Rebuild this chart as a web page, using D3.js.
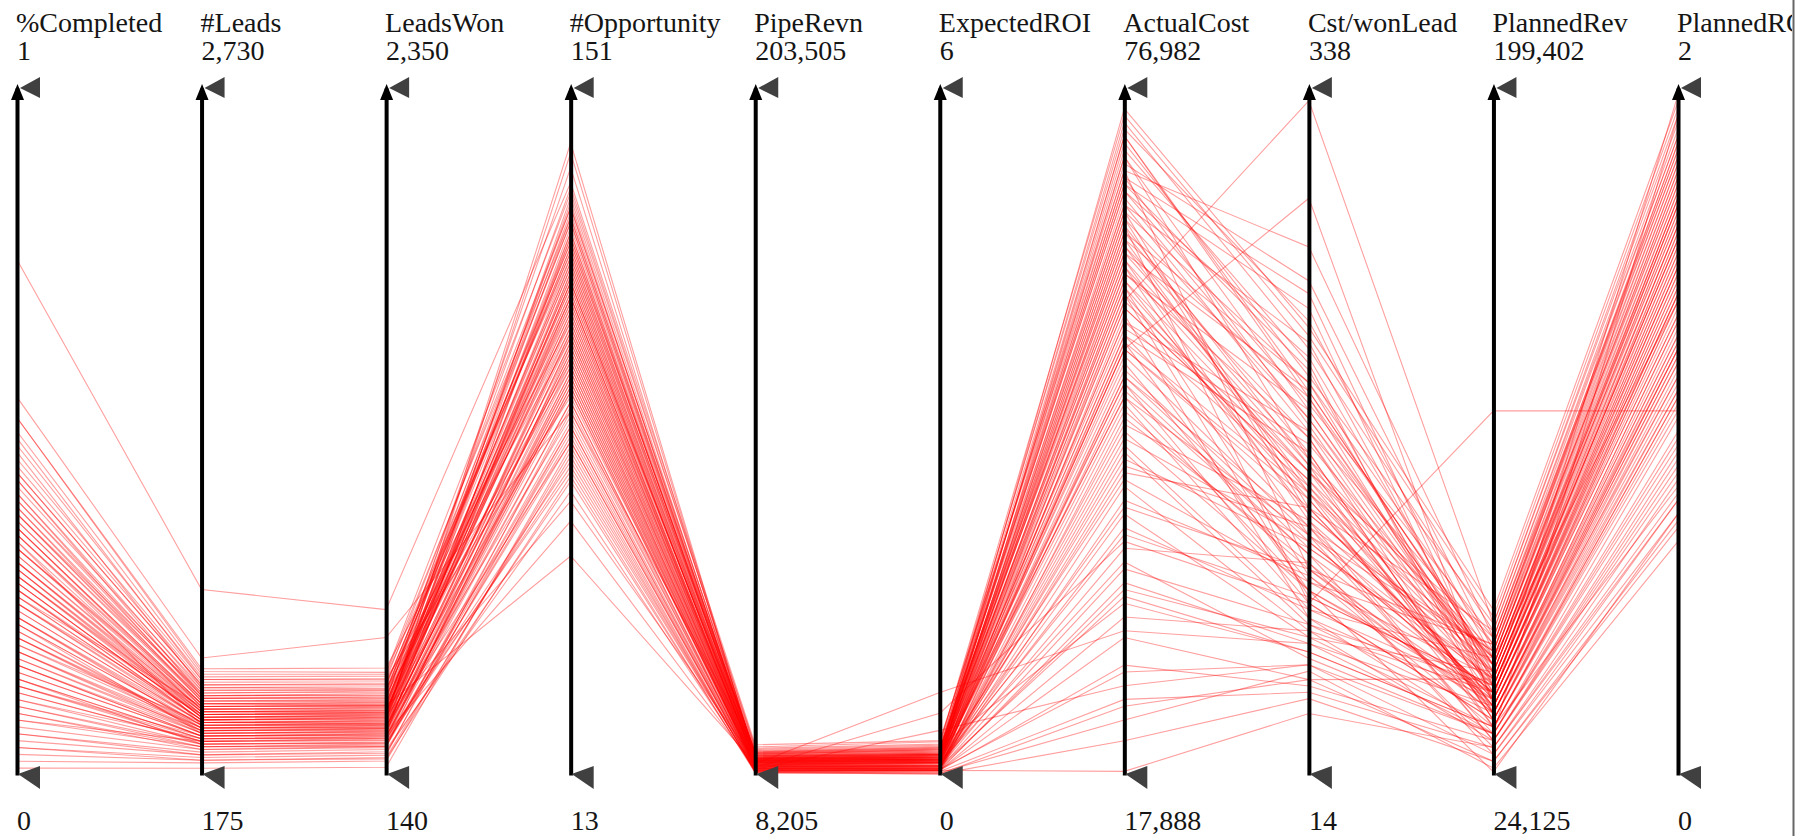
<!DOCTYPE html>
<html>
<head>
<meta charset="utf-8">
<script src="https://cdnjs.cloudflare.com/ajax/libs/d3/7.8.5/d3.min.js"></script>
<style>
  body { margin: 0; background: #fff; }
  svg { display: block; }
  .label { font-family: "Liberation Serif", "Times New Roman", serif; font-size: 28px; fill: #151515; text-anchor: start; }
  .line { fill: none; stroke: #ff0000; stroke-opacity: 0.38; stroke-width: 1.1; }
</style>
</head>
<body>
<div class="flex-container"></div>
<script>
var width = 1805;
var height = 836;

var margin = { "top": 88,
               "bottom": 61,
               "left": 17,
               "right": 127 };

// axes, left to right, with the range printed at the top and bottom
var dimensions = ["%Completed", "#Leads", "LeadsWon", "#Opportunity", "PipeRevn",
                  "ExpectedROI", "ActualCost", "Cst/wonLead", "PlannedRev", "PlannedROI"];
var domainMin = [0, 175, 140, 13, 8205, 0, 17888, 14, 24125, 0];
var domainMax = [1, 2730, 2350, 151, 203505, 6, 76982, 338, 199402, 2];

// one array per axis, same record order in each
var completed = [.32,.18,.41,.08,.27,.75,.22,.36,.14,.29,
                 .45,.05,.24,.38,.11,.33,.20,.55,.17,.30,
                 .02,.26,.43,.13,.35,.48,.09,.21,.39,.16,
                 .28,.34,.07,.42,.19,.25,.31,.12,.37,.23,
                 .04,.40,.15,.52,.27,.10,.33,.20,.44,.06,
                 .29,.36,.18,.46,.22,.14,.31,.38,.01,.25,
                 .34,.12,.40,.19,.28,.08,.35,.23,.50,.16,
                 .30,.03,.37,.21,.13,.26,.47,.17,.32,.09,
                 .24,.41,.15,.27,.52,.11,.33,.20,.38,.06,
                 .29,.43,.18,.25,.36,.13,.31,.22,.49,.10,
                 .35,.16,.28,.04,.39,.23,.30,.14,.44,.26];

var leads = [410,350,460,300,380,865,330,440,290,400,
             520,250,370,480,310,420,360,610,340,390,
             220,430,470,320,410,540,280,350,450,330,
             390,360,270,500,370,400,420,300,460,350,
             240,490,320,560,380,290,440,340,510,260,
             410,430,330,530,360,310,400,450,200,370,
             420,300,470,350,390,280,440,360,550,320,
             410,230,450,340,310,380,500,330,420,270,
             370,480,320,400,570,290,430,350,460,250,
             390,490,340,380,440,300,410,360,530,280,
             430,320,390,230,470,370,400,310,510,380];

var leadsWon = [340,296,392,250,322,672,282,364,246,338,
                440,215,305,410,262,356,303,582,290,330,
                185,362,398,270,349,458,236,290,380,276,
                334,298,228,424,312,342,350,255,386,294,
                204,416,274,470,318,242,372,284,430,222,
                346,366,280,450,306,258,336,376,165,314,
                358,252,402,300,326,232,368,302,464,268,
                344,196,384,288,264,324,418,278,354,232,
                310,406,266,340,484,244,360,292,390,210,
                328,412,286,320,374,258,348,308,446,240,
                364,272,332,192,396,316,334,260,434,326];

var opportunity = [112,98,121,88,105,132,94,116,83,125,
                   101,72,109,119,91,113,97,86,103,128,
                   78,110,95,122,106,117,84,100,135,92,
                   114,80,99,124,107,90,111,76,127,102,
                   87,118,96,130,108,82,115,93,120,70,
                   104,126,98,89,112,74,123,109,79,101,
                   116,94,131,85,106,81,119,97,125,91,
                   113,77,103,121,88,110,96,114,99,86,
                   129,107,92,117,104,75,122,100,111,83,
                   105,120,95,138,108,90,115,102,127,80,
                   57,64,68,73,124,140,109,93,118,112];

var pipeRevn = [11800,10400,13200,9600,12400,16800,10900,12900,9300,14100,
                11200,9100,12100,13600,10100,11600,10600,15200,11400,12700,
                9000,13900,10800,12300,11000,14600,9700,11700,13400,10300,
                12600,9900,11300,14300,12000,10700,13000,9400,15500,11100,
                9800,12800,10500,16200,11900,9200,13300,10200,14800,9500,
                12200,13700,10800,11500,12500,9600,14000,11800,8900,11000,
                12900,10000,15800,10400,12400,9300,13500,11300,14400,10100,
                12700,9000,11600,13100,9900,12000,11200,12600,10900,9700,
                14200,12300,10600,13200,11800,9400,13800,11100,12800,9800,
                12100,14500,10300,13000,11400,10000,12500,11700,15000,9500,
                11500,10200,12200,8800,13600,12900,11900,10500,14700,12300];

var expectedROI = [.13,.08,.17,.05,.15,.30,.09,.16,.04,.22,
                   .11,.03,.14,.19,.06,.12,.08,.25,.11,.15,
                   .02,.20,.08,.14,.10,.23,.05,.13,.18,.07,
                   .16,.06,.11,.21,.14,.08,.17,.04,.26,.10,
                   .06,.16,.08,.29,.13,.03,.18,.07,.24,.04,
                   .14,.19,.09,.12,.15,.05,.20,.12,.01,.10,
                   .17,.06,.27,.07,.14,.04,.18,.11,.22,.06,
                   .16,.02,.12,.17,.05,.13,.11,.15,.09,.05,
                   .21,.14,.08,.18,.13,.04,.19,.10,.16,.39,
                   .14,.22,.54,.17,.72,.06,.15,.12,.24,.04,
                   .11,.07,.14,.01,.18,.16,.13,.08,.23,.15];

var actualCost = [72850,60430,65760,55120,50390,69890,45070,63390,57480,74030,
                  38570,52160,67530,59840,42710,71070,54520,32660,64570,61620,
                  48620,68710,40340,58660,51570,66940,26750,63390,72250,46840,
                  56300,35620,62210,69300,53340,43890,65160,29710,73440,58070,
                  50980,61030,39160,70480,55710,24390,66350,49210,62800,34430,
                  59250,71660,53930,54520,63980,41530,68120,56890,20840,52160,
                  64570,46250,74620,37390,60430,31480,69300,55120,62210,44480,
                  65760,22620,49800,68710,58660,56890,36210,66940,52750,33840,
                  72850,59250,48030,62800,43300,27340,69890,54520,61620,25570,
                  51570,68120,37980,75210,30300,45660,65160,55710,71070,18200,
                  40930,33250,58070,23800,66350,61030,50390,47440,63980,59840];

var costPerLead = [192,157,137,147,101,111,121,173,88,215,
                   98,131,182,108,82,163,144,72,199,127,
                   114,234,79,157,95,218,66,150,202,124,
                   170,85,134,179,105,140,160,59,228,153,
                   118,186,92,247,166,53,140,111,195,76,
                   98,208,127,286,147,108,189,176,50,121,
                   166,88,221,114,137,82,241,101,160,131,
                   182,63,92,205,332,150,69,176,124,79,
                   195,144,134,163,105,56,263,140,157,66,
                   118,211,95,225,76,85,95,131,186,43,
                   111,72,153,59,199,173,127,101,192,147];

var plannedRev = [45160,39900,50420,36390,43410,57430,48660,38150,34640,60930,
                  46910,32890,52170,41650,45160,53920,39900,36390,46910,55680,
                  31140,43410,50420,59180,38150,48660,34640,41650,62690,45160,
                  52170,39900,32890,46910,57430,43410,36390,48660,53920,41650,
                  29380,50420,45160,55680,38150,31140,60930,43410,52170,34640,
                  46910,39900,48660,41650,53920,36390,59180,45160,27630,50420,
                  38150,43410,64440,39900,52170,32890,46910,45160,55680,41650,
                  48660,25880,53920,43410,62690,50420,34640,57430,45160,36390,
                  52170,41650,46910,39900,48660,32890,59180,43410,53920,29380,
                  45160,50420,38150,66190,41650,46910,117020,55680,48660,31140,
                  39900,36390,52170,27630,57430,43410,34640,24900,53920,46910];

var plannedROI = [1.48,1.24,1.66,1.10,1.40,1.80,1.56,1.20,1.00,1.86,
                  1.52,0.90,1.70,1.32,1.42,1.76,1.16,0.84,1.58,1.72,
                  0.80,1.38,1.62,1.82,1.14,1.54,0.96,1.28,1.92,1.46,
                  1.68,1.22,0.92,1.50,1.78,1.34,1.12,1.60,1.74,1.30,
                  0.76,1.64,1.40,1.84,1.18,0.86,1.88,1.36,1.66,1.04,
                  1.48,1.26,1.56,1.24,1.72,1.06,1.80,1.44,0.72,1.60,
                  1.16,1.38,1.94,1.20,1.68,0.88,1.52,1.42,1.76,1.32,
                  1.58,0.68,1.70,1.34,1.90,1.64,0.98,1.82,1.46,1.08,
                  1.62,1.28,1.54,1.22,1.60,0.94,1.86,1.40,1.74,0.80,
                  1.44,1.68,1.12,1.96,1.26,1.50,1.06,1.78,1.56,0.82,
                  1.24,1.10,1.66,0.74,1.84,1.98,1.92,0.76,1.38,1.48];

var columns = [completed, leads, leadsWon, opportunity, pipeRevn,
               expectedROI, actualCost, costPerLead, plannedRev, plannedROI];

// records for d3.line, built from the columns above
var rows = completed.map(function(d, i) {
  return columns.map(function(c) { return c[i]; });
});

var formatNum = d3.format(",.0f");

var svg = d3.select(".flex-container")
              .append("svg")
              .attr("width", width)
              .attr("height", height);

svg.append("defs")
    .append("clipPath")
    .attr("id", "frame")
    .append("rect")
    .attr("width", 1792)
    .attr("height", height);

var chart = svg.append("g").attr("clip-path", "url(#frame)");

var scaleX = d3.scalePoint()
                .domain(dimensions)
                .range([margin.left, width - margin.right]);

var scalesY = dimensions.map(function(d, i) {
  return d3.scaleLinear()
            .domain([domainMin[i], domainMax[i]])
            .range([height - margin.bottom, margin.top]);
});

var line = d3.line()
              .x(function(d, i) { return scaleX(dimensions[i]); })
              .y(function(d, i) { return scalesY[i](d); });

chart.append("g")
      .selectAll("path")
      .data(rows)
      .enter()
      .append("path")
      .attr("class", "line")
      .attr("d", line);

dimensions.forEach(function(dim, i) {

  var g = chart.append("g")
                .attr("class", "axis")
                .attr("transform", "translate(" + scaleX(dim) + ",0)");

  g.call(d3.axisLeft(scalesY[i]).tickValues([]).tickSizeOuter(0));

  g.select(".domain")
    .attr("stroke", "#000")
    .attr("stroke-width", 4);

  // arrow head on top of the axis
  g.append("path")
    .attr("d", "M-6,100L0.5,84L7,100Z")
    .attr("fill", "#000");

  // brush handles
  g.append("path")
    .attr("d", "M3,88L23,77L23,98Z")
    .attr("fill", "#404040");

  g.append("path")
    .attr("d", "M1,774L23,766L23,789Z")
    .attr("fill", "#404040");

  g.append("text")
    .attr("class", "label")
    .attr("text-anchor", "start")
    .attr("x", -1)
    .attr("y", 32)
    .text(dim);

  g.append("text")
    .attr("class", "label")
    .attr("text-anchor", "start")
    .attr("x", 0)
    .attr("y", 60)
    .text(formatNum(domainMax[i]));

  g.append("text")
    .attr("class", "label")
    .attr("text-anchor", "start")
    .attr("x", 0)
    .attr("y", 830)
    .text(formatNum(domainMin[i]));
});

// right frame edge
svg.append("line")
    .attr("x1", 1793.5)
    .attr("x2", 1793.5)
    .attr("y1", 0)
    .attr("y2", height)
    .attr("stroke", "#666")
    .attr("stroke-width", 2);
</script>
</body>
</html>
